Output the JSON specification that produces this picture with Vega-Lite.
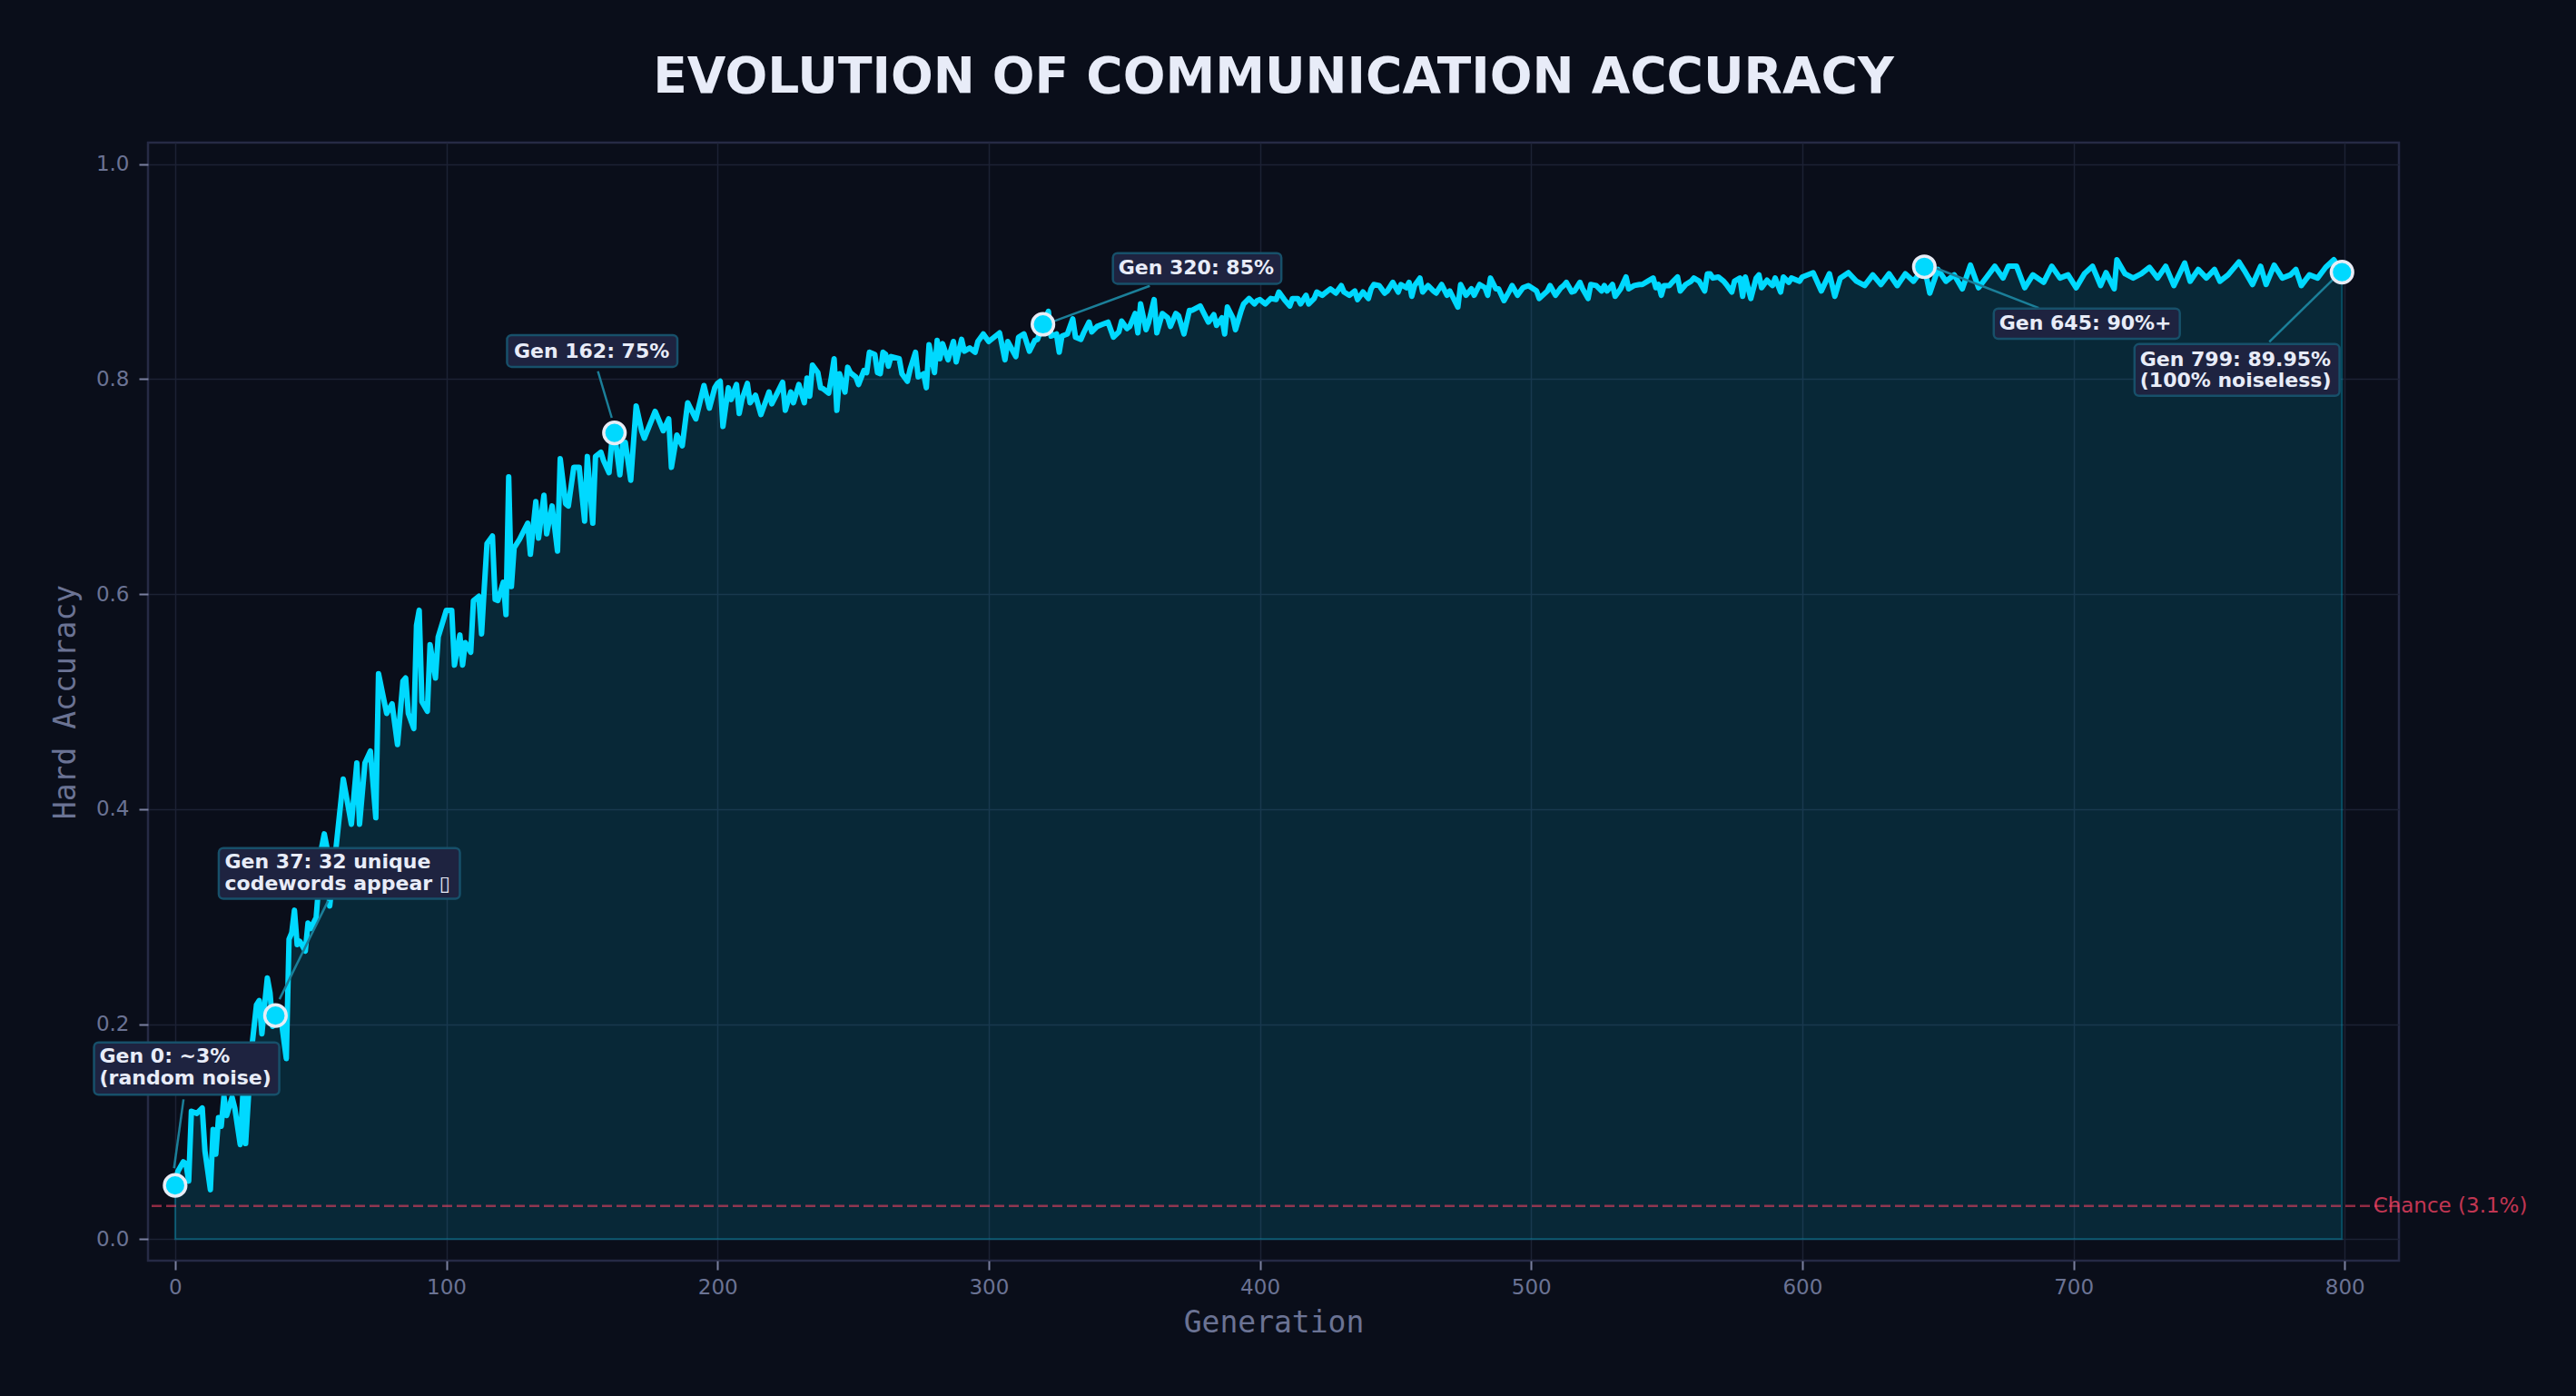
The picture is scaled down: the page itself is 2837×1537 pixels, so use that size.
{
  "$schema": "https://vega.github.io/schema/vega-lite/v6.json",
  "description": "Evolution of communication accuracy over generations, with milestone annotations.",
  "autosize": {"type": "none"},
  "width": 2479,
  "height": 1231,
  "padding": {"left": 163, "top": 157, "right": 195, "bottom": 149},
  "background": "#0a0e1a",
  "title": {
    "text": "EVOLUTION OF COMMUNICATION ACCURACY",
    "font": "DejaVu Sans",
    "fontSize": 55,
    "fontWeight": "bold",
    "color": "#e8ecf8",
    "anchor": "middle",
    "frame": "group",
    "baseline": "alphabetic",
    "offset": 0
  },
  "config": {
    "view": {"stroke": "#262a45", "strokeWidth": 2.5, "fill": "#0a0e1a"},
    "axis": {
      "domain": false,
      "labelFont": "DejaVu Sans",
      "labelFontSize": 23,
      "labelColor": "#6b7394",
      "tickColor": "#7a80a0",
      "tickSize": 10,
      "tickWidth": 2,
      "gridColor": "#1c2234",
      "gridWidth": 1.5,
      "titleFont": "DejaVu Sans Mono",
      "titleFontSize": 33,
      "titleFontWeight": "normal",
      "titleColor": "#6b7394"
    }
  },
  "datasets": {
    "curve": [
      {"gen": 0, "acc": 0.050}, {"gen": 1, "acc": 0.063}, {"gen": 3, "acc": 0.072}, {"gen": 4, "acc": 0.070},
      {"gen": 5, "acc": 0.054}, {"gen": 6, "acc": 0.119}, {"gen": 8, "acc": 0.117}, {"gen": 10, "acc": 0.122},
      {"gen": 11, "acc": 0.082}, {"gen": 13, "acc": 0.046}, {"gen": 14, "acc": 0.102}, {"gen": 15, "acc": 0.079},
      {"gen": 16, "acc": 0.113}, {"gen": 17, "acc": 0.105}, {"gen": 18, "acc": 0.133}, {"gen": 19, "acc": 0.115},
      {"gen": 21, "acc": 0.132}, {"gen": 22, "acc": 0.122}, {"gen": 24, "acc": 0.088}, {"gen": 25, "acc": 0.136},
      {"gen": 26, "acc": 0.089}, {"gen": 28, "acc": 0.172}, {"gen": 29, "acc": 0.195}, {"gen": 30, "acc": 0.218},
      {"gen": 31, "acc": 0.222}, {"gen": 32, "acc": 0.191}, {"gen": 33, "acc": 0.218}, {"gen": 34, "acc": 0.243},
      {"gen": 35, "acc": 0.229}, {"gen": 36, "acc": 0.198}, {"gen": 37, "acc": 0.208}, {"gen": 39, "acc": 0.206},
      {"gen": 41, "acc": 0.168}, {"gen": 42, "acc": 0.279}, {"gen": 43, "acc": 0.285}, {"gen": 44, "acc": 0.306},
      {"gen": 45, "acc": 0.274}, {"gen": 46, "acc": 0.277}, {"gen": 48, "acc": 0.268}, {"gen": 49, "acc": 0.294},
      {"gen": 50, "acc": 0.289}, {"gen": 52, "acc": 0.299}, {"gen": 54, "acc": 0.364}, {"gen": 55, "acc": 0.377},
      {"gen": 56, "acc": 0.364}, {"gen": 57, "acc": 0.310}, {"gen": 59, "acc": 0.356}, {"gen": 62, "acc": 0.428},
      {"gen": 65, "acc": 0.386}, {"gen": 67, "acc": 0.443}, {"gen": 68, "acc": 0.386}, {"gen": 70, "acc": 0.443},
      {"gen": 72, "acc": 0.454}, {"gen": 74, "acc": 0.392}, {"gen": 75, "acc": 0.526}, {"gen": 78, "acc": 0.489},
      {"gen": 80, "acc": 0.498}, {"gen": 82, "acc": 0.460}, {"gen": 84, "acc": 0.519}, {"gen": 85, "acc": 0.522},
      {"gen": 86, "acc": 0.489}, {"gen": 88, "acc": 0.475}, {"gen": 89, "acc": 0.571}, {"gen": 90, "acc": 0.585},
      {"gen": 91, "acc": 0.500}, {"gen": 93, "acc": 0.491}, {"gen": 94, "acc": 0.553}, {"gen": 96, "acc": 0.522},
      {"gen": 97, "acc": 0.560}, {"gen": 100, "acc": 0.585}, {"gen": 102, "acc": 0.585}, {"gen": 103, "acc": 0.534},
      {"gen": 105, "acc": 0.562}, {"gen": 106, "acc": 0.534}, {"gen": 107, "acc": 0.555}, {"gen": 109, "acc": 0.546},
      {"gen": 110, "acc": 0.594}, {"gen": 112, "acc": 0.598}, {"gen": 113, "acc": 0.563}, {"gen": 114, "acc": 0.606},
      {"gen": 115, "acc": 0.647}, {"gen": 117, "acc": 0.654}, {"gen": 118, "acc": 0.595}, {"gen": 119, "acc": 0.594},
      {"gen": 121, "acc": 0.611}, {"gen": 122, "acc": 0.581}, {"gen": 123, "acc": 0.709}, {"gen": 124, "acc": 0.607},
      {"gen": 125, "acc": 0.643}, {"gen": 127, "acc": 0.651}, {"gen": 130, "acc": 0.666}, {"gen": 131, "acc": 0.637},
      {"gen": 133, "acc": 0.686}, {"gen": 134, "acc": 0.652}, {"gen": 136, "acc": 0.692}, {"gen": 137, "acc": 0.656},
      {"gen": 139, "acc": 0.682}, {"gen": 141, "acc": 0.640}, {"gen": 142, "acc": 0.726}, {"gen": 144, "acc": 0.684},
      {"gen": 145, "acc": 0.682}, {"gen": 147, "acc": 0.718}, {"gen": 149, "acc": 0.718}, {"gen": 151, "acc": 0.668},
      {"gen": 152, "acc": 0.728}, {"gen": 154, "acc": 0.666}, {"gen": 155, "acc": 0.728}, {"gen": 157, "acc": 0.732},
      {"gen": 158, "acc": 0.724}, {"gen": 160, "acc": 0.713}, {"gen": 161, "acc": 0.741}, {"gen": 162, "acc": 0.750},
      {"gen": 164, "acc": 0.711}, {"gen": 165, "acc": 0.739}, {"gen": 166, "acc": 0.741}, {"gen": 168, "acc": 0.706},
      {"gen": 170, "acc": 0.775}, {"gen": 172, "acc": 0.752}, {"gen": 173, "acc": 0.745}, {"gen": 177, "acc": 0.770},
      {"gen": 180, "acc": 0.752}, {"gen": 182, "acc": 0.763}, {"gen": 183, "acc": 0.718}, {"gen": 185, "acc": 0.748},
      {"gen": 187, "acc": 0.738}, {"gen": 189, "acc": 0.778}, {"gen": 192, "acc": 0.763}, {"gen": 195, "acc": 0.794},
      {"gen": 197, "acc": 0.773}, {"gen": 199, "acc": 0.792}, {"gen": 200, "acc": 0.796}, {"gen": 201, "acc": 0.798},
      {"gen": 202, "acc": 0.756}, {"gen": 204, "acc": 0.792}, {"gen": 205, "acc": 0.781}, {"gen": 207, "acc": 0.795},
      {"gen": 208, "acc": 0.768}, {"gen": 209, "acc": 0.781}, {"gen": 211, "acc": 0.796}, {"gen": 212, "acc": 0.778},
      {"gen": 214, "acc": 0.785}, {"gen": 216, "acc": 0.767}, {"gen": 218, "acc": 0.781}, {"gen": 219, "acc": 0.788},
      {"gen": 220, "acc": 0.777}, {"gen": 222, "acc": 0.787}, {"gen": 224, "acc": 0.797}, {"gen": 225, "acc": 0.771},
      {"gen": 227, "acc": 0.788}, {"gen": 228, "acc": 0.778}, {"gen": 230, "acc": 0.795}, {"gen": 232, "acc": 0.778},
      {"gen": 233, "acc": 0.801}, {"gen": 234, "acc": 0.784}, {"gen": 235, "acc": 0.813}, {"gen": 237, "acc": 0.806},
      {"gen": 238, "acc": 0.792}, {"gen": 239, "acc": 0.791}, {"gen": 241, "acc": 0.787}, {"gen": 242, "acc": 0.802},
      {"gen": 243, "acc": 0.819}, {"gen": 244, "acc": 0.771}, {"gen": 245, "acc": 0.805}, {"gen": 247, "acc": 0.788},
      {"gen": 248, "acc": 0.811}, {"gen": 249, "acc": 0.806}, {"gen": 251, "acc": 0.802}, {"gen": 252, "acc": 0.795},
      {"gen": 254, "acc": 0.808}, {"gen": 255, "acc": 0.806}, {"gen": 256, "acc": 0.825}, {"gen": 258, "acc": 0.823},
      {"gen": 259, "acc": 0.806}, {"gen": 260, "acc": 0.805}, {"gen": 261, "acc": 0.825}, {"gen": 262, "acc": 0.823},
      {"gen": 263, "acc": 0.812}, {"gen": 264, "acc": 0.821}, {"gen": 267, "acc": 0.819}, {"gen": 268, "acc": 0.805},
      {"gen": 270, "acc": 0.798}, {"gen": 271, "acc": 0.809}, {"gen": 273, "acc": 0.825}, {"gen": 274, "acc": 0.802},
      {"gen": 276, "acc": 0.805}, {"gen": 277, "acc": 0.792}, {"gen": 278, "acc": 0.832}, {"gen": 280, "acc": 0.806},
      {"gen": 281, "acc": 0.836}, {"gen": 282, "acc": 0.819}, {"gen": 283, "acc": 0.833}, {"gen": 285, "acc": 0.818},
      {"gen": 287, "acc": 0.835}, {"gen": 288, "acc": 0.816}, {"gen": 290, "acc": 0.837}, {"gen": 291, "acc": 0.826},
      {"gen": 293, "acc": 0.829}, {"gen": 295, "acc": 0.825}, {"gen": 296, "acc": 0.835}, {"gen": 298, "acc": 0.842},
      {"gen": 300, "acc": 0.835}, {"gen": 302, "acc": 0.839}, {"gen": 304, "acc": 0.843}, {"gen": 306, "acc": 0.818},
      {"gen": 307, "acc": 0.835}, {"gen": 310, "acc": 0.821}, {"gen": 311, "acc": 0.839}, {"gen": 313, "acc": 0.842},
      {"gen": 315, "acc": 0.826}, {"gen": 317, "acc": 0.836}, {"gen": 318, "acc": 0.837}, {"gen": 320, "acc": 0.851},
      {"gen": 322, "acc": 0.863}, {"gen": 323, "acc": 0.840}, {"gen": 325, "acc": 0.842}, {"gen": 326, "acc": 0.825},
      {"gen": 327, "acc": 0.840}, {"gen": 329, "acc": 0.842}, {"gen": 331, "acc": 0.856}, {"gen": 332, "acc": 0.839},
      {"gen": 334, "acc": 0.837}, {"gen": 335, "acc": 0.843}, {"gen": 337, "acc": 0.853}, {"gen": 338, "acc": 0.844},
      {"gen": 340, "acc": 0.849}, {"gen": 342, "acc": 0.851}, {"gen": 344, "acc": 0.853}, {"gen": 346, "acc": 0.839},
      {"gen": 348, "acc": 0.844}, {"gen": 349, "acc": 0.854}, {"gen": 351, "acc": 0.847}, {"gen": 352, "acc": 0.849},
      {"gen": 354, "acc": 0.861}, {"gen": 355, "acc": 0.843}, {"gen": 356, "acc": 0.870}, {"gen": 358, "acc": 0.846},
      {"gen": 359, "acc": 0.853}, {"gen": 361, "acc": 0.874}, {"gen": 362, "acc": 0.843}, {"gen": 364, "acc": 0.861},
      {"gen": 366, "acc": 0.857}, {"gen": 367, "acc": 0.849}, {"gen": 369, "acc": 0.861}, {"gen": 370, "acc": 0.859},
      {"gen": 372, "acc": 0.842}, {"gen": 374, "acc": 0.864}, {"gen": 375, "acc": 0.864}, {"gen": 378, "acc": 0.868},
      {"gen": 379, "acc": 0.863}, {"gen": 381, "acc": 0.853}, {"gen": 383, "acc": 0.860}, {"gen": 384, "acc": 0.850},
      {"gen": 386, "acc": 0.857}, {"gen": 387, "acc": 0.842}, {"gen": 388, "acc": 0.867}, {"gen": 390, "acc": 0.857},
      {"gen": 391, "acc": 0.846}, {"gen": 393, "acc": 0.863}, {"gen": 394, "acc": 0.870}, {"gen": 396, "acc": 0.875},
      {"gen": 398, "acc": 0.870}, {"gen": 399, "acc": 0.873}, {"gen": 400, "acc": 0.874}, {"gen": 402, "acc": 0.870},
      {"gen": 404, "acc": 0.875}, {"gen": 406, "acc": 0.874}, {"gen": 407, "acc": 0.881}, {"gen": 409, "acc": 0.874},
      {"gen": 411, "acc": 0.868}, {"gen": 412, "acc": 0.875}, {"gen": 414, "acc": 0.875}, {"gen": 415, "acc": 0.870},
      {"gen": 417, "acc": 0.878}, {"gen": 418, "acc": 0.870}, {"gen": 420, "acc": 0.875}, {"gen": 421, "acc": 0.881},
      {"gen": 423, "acc": 0.878}, {"gen": 424, "acc": 0.880}, {"gen": 426, "acc": 0.884}, {"gen": 428, "acc": 0.880},
      {"gen": 430, "acc": 0.887}, {"gen": 431, "acc": 0.881}, {"gen": 433, "acc": 0.878}, {"gen": 435, "acc": 0.882},
      {"gen": 436, "acc": 0.874}, {"gen": 438, "acc": 0.881}, {"gen": 440, "acc": 0.875}, {"gen": 441, "acc": 0.884},
      {"gen": 442, "acc": 0.888}, {"gen": 444, "acc": 0.887}, {"gen": 446, "acc": 0.880}, {"gen": 447, "acc": 0.882},
      {"gen": 449, "acc": 0.890}, {"gen": 451, "acc": 0.881}, {"gen": 452, "acc": 0.888}, {"gen": 454, "acc": 0.885},
      {"gen": 455, "acc": 0.890}, {"gen": 456, "acc": 0.877}, {"gen": 457, "acc": 0.887}, {"gen": 459, "acc": 0.894},
      {"gen": 460, "acc": 0.881}, {"gen": 462, "acc": 0.887}, {"gen": 464, "acc": 0.882}, {"gen": 465, "acc": 0.880},
      {"gen": 467, "acc": 0.888}, {"gen": 469, "acc": 0.878}, {"gen": 470, "acc": 0.882}, {"gen": 471, "acc": 0.877},
      {"gen": 473, "acc": 0.867}, {"gen": 474, "acc": 0.888}, {"gen": 476, "acc": 0.878}, {"gen": 478, "acc": 0.884},
      {"gen": 479, "acc": 0.878}, {"gen": 481, "acc": 0.888}, {"gen": 483, "acc": 0.885}, {"gen": 484, "acc": 0.878},
      {"gen": 485, "acc": 0.894}, {"gen": 487, "acc": 0.884}, {"gen": 488, "acc": 0.884}, {"gen": 490, "acc": 0.873},
      {"gen": 492, "acc": 0.882}, {"gen": 493, "acc": 0.887}, {"gen": 495, "acc": 0.878}, {"gen": 497, "acc": 0.885},
      {"gen": 499, "acc": 0.887}, {"gen": 502, "acc": 0.882}, {"gen": 503, "acc": 0.875}, {"gen": 506, "acc": 0.882},
      {"gen": 507, "acc": 0.887}, {"gen": 509, "acc": 0.878}, {"gen": 511, "acc": 0.885}, {"gen": 512, "acc": 0.887},
      {"gen": 513, "acc": 0.890}, {"gen": 515, "acc": 0.881}, {"gen": 516, "acc": 0.882}, {"gen": 518, "acc": 0.890},
      {"gen": 519, "acc": 0.884}, {"gen": 521, "acc": 0.875}, {"gen": 522, "acc": 0.888}, {"gen": 524, "acc": 0.887},
      {"gen": 526, "acc": 0.882}, {"gen": 527, "acc": 0.887}, {"gen": 528, "acc": 0.882}, {"gen": 530, "acc": 0.888},
      {"gen": 531, "acc": 0.877}, {"gen": 533, "acc": 0.884}, {"gen": 535, "acc": 0.895}, {"gen": 536, "acc": 0.884},
      {"gen": 538, "acc": 0.887}, {"gen": 540, "acc": 0.888}, {"gen": 541, "acc": 0.888}, {"gen": 543, "acc": 0.891},
      {"gen": 545, "acc": 0.894}, {"gen": 546, "acc": 0.885}, {"gen": 547, "acc": 0.888}, {"gen": 548, "acc": 0.878},
      {"gen": 549, "acc": 0.887}, {"gen": 551, "acc": 0.887}, {"gen": 552, "acc": 0.890}, {"gen": 554, "acc": 0.895},
      {"gen": 555, "acc": 0.882}, {"gen": 557, "acc": 0.888}, {"gen": 559, "acc": 0.891}, {"gen": 560, "acc": 0.894},
      {"gen": 562, "acc": 0.891}, {"gen": 564, "acc": 0.882}, {"gen": 565, "acc": 0.898}, {"gen": 566, "acc": 0.898},
      {"gen": 567, "acc": 0.894}, {"gen": 569, "acc": 0.895}, {"gen": 571, "acc": 0.891}, {"gen": 572, "acc": 0.888},
      {"gen": 574, "acc": 0.881}, {"gen": 575, "acc": 0.891}, {"gen": 577, "acc": 0.894}, {"gen": 578, "acc": 0.877},
      {"gen": 579, "acc": 0.895}, {"gen": 581, "acc": 0.875}, {"gen": 583, "acc": 0.894}, {"gen": 584, "acc": 0.897},
      {"gen": 585, "acc": 0.885}, {"gen": 587, "acc": 0.892}, {"gen": 589, "acc": 0.887}, {"gen": 590, "acc": 0.894},
      {"gen": 592, "acc": 0.881}, {"gen": 593, "acc": 0.895}, {"gen": 595, "acc": 0.890}, {"gen": 596, "acc": 0.894},
      {"gen": 599, "acc": 0.891}, {"gen": 600, "acc": 0.895}, {"gen": 604, "acc": 0.899}, {"gen": 607, "acc": 0.882},
      {"gen": 610, "acc": 0.898}, {"gen": 612, "acc": 0.877}, {"gen": 614, "acc": 0.894}, {"gen": 617, "acc": 0.899},
      {"gen": 620, "acc": 0.891}, {"gen": 623, "acc": 0.887}, {"gen": 626, "acc": 0.897}, {"gen": 629, "acc": 0.888},
      {"gen": 632, "acc": 0.898}, {"gen": 635, "acc": 0.887}, {"gen": 638, "acc": 0.898}, {"gen": 641, "acc": 0.891},
      {"gen": 645, "acc": 0.9045}, {"gen": 647, "acc": 0.880}, {"gen": 650, "acc": 0.902}, {"gen": 653, "acc": 0.891},
      {"gen": 656, "acc": 0.897}, {"gen": 659, "acc": 0.884}, {"gen": 662, "acc": 0.906}, {"gen": 665, "acc": 0.885},
      {"gen": 668, "acc": 0.895}, {"gen": 671, "acc": 0.905}, {"gen": 674, "acc": 0.894}, {"gen": 676, "acc": 0.905},
      {"gen": 679, "acc": 0.905}, {"gen": 682, "acc": 0.885}, {"gen": 685, "acc": 0.897}, {"gen": 689, "acc": 0.890},
      {"gen": 692, "acc": 0.905}, {"gen": 695, "acc": 0.894}, {"gen": 698, "acc": 0.897}, {"gen": 701, "acc": 0.885},
      {"gen": 704, "acc": 0.898}, {"gen": 707, "acc": 0.905}, {"gen": 710, "acc": 0.887}, {"gen": 712, "acc": 0.899},
      {"gen": 715, "acc": 0.884}, {"gen": 716, "acc": 0.911}, {"gen": 719, "acc": 0.898}, {"gen": 722, "acc": 0.894},
      {"gen": 725, "acc": 0.898}, {"gen": 728, "acc": 0.904}, {"gen": 731, "acc": 0.894}, {"gen": 734, "acc": 0.905},
      {"gen": 737, "acc": 0.887}, {"gen": 741, "acc": 0.908}, {"gen": 743, "acc": 0.891}, {"gen": 746, "acc": 0.902},
      {"gen": 749, "acc": 0.894}, {"gen": 752, "acc": 0.902}, {"gen": 754, "acc": 0.891}, {"gen": 757, "acc": 0.897},
      {"gen": 761, "acc": 0.909}, {"gen": 763, "acc": 0.901}, {"gen": 766, "acc": 0.888}, {"gen": 769, "acc": 0.905},
      {"gen": 771, "acc": 0.888}, {"gen": 774, "acc": 0.906}, {"gen": 777, "acc": 0.894}, {"gen": 780, "acc": 0.897},
      {"gen": 782, "acc": 0.902}, {"gen": 784, "acc": 0.887}, {"gen": 787, "acc": 0.897}, {"gen": 790, "acc": 0.894},
      {"gen": 793, "acc": 0.904}, {"gen": 796, "acc": 0.911}, {"gen": 799, "acc": 0.8995}
    ],
    "milestones": [
      {"gen": 0, "acc": 0.050},
      {"gen": 37, "acc": 0.208},
      {"gen": 162, "acc": 0.750},
      {"gen": 320, "acc": 0.851},
      {"gen": 645, "acc": 0.9045},
      {"gen": 799, "acc": 0.8995}
    ],
    "chance": [
      {"gen": 810.5, "acc": 0.031, "label": "Chance (3.1%)"}
    ],
    "notes": [
      {"label": ["Gen 0: ~3%", "(random noise)"], "tx": -27.9, "ty": 0.170, "bx0": -29.9, "bx1": 38.4, "by0": 0.1344, "by1": 0.1830, "ax0": 3.1, "ay0": 0.130, "ax1": -0.4, "ay1": 0.066},
      {"label": ["Gen 37: 32 unique", "codewords appear ▯"], "tx": 18.3, "ty": 0.3508, "bx0": 16.1, "bx1": 105.0, "by0": 0.3167, "by1": 0.3638, "ax0": 56.4, "ay0": 0.3147, "ax1": 38.5, "ay1": 0.2232},
      {"label": ["Gen 162: 75%"], "tx": 124.9, "ty": 0.8258, "bx0": 122.4, "bx1": 185.2, "by0": 0.8114, "by1": 0.8409, "ax0": 155.9, "ay0": 0.8073, "ax1": 161.0, "ay1": 0.7640},
      {"label": ["Gen 320: 85%"], "tx": 347.8, "ty": 0.9031, "bx0": 345.8, "bx1": 407.9, "by0": 0.8887, "by1": 0.9172, "ax0": 359.4, "ay0": 0.8867, "ax1": 323.6, "ay1": 0.8535},
      {"label": ["Gen 645: 90%+"], "tx": 672.6, "ty": 0.8516, "bx0": 670.6, "bx1": 739.2, "by0": 0.8375, "by1": 0.8656, "ax0": 687.2, "ay0": 0.8662, "ax1": 649.5, "ay1": 0.9030},
      {"label": ["Gen 799: 89.95%", "(100% noiseless)"], "tx": 724.5, "ty": 0.8183, "bx0": 722.5, "bx1": 798.1, "by0": 0.7844, "by1": 0.8326, "ax0": 772.2, "ay0": 0.8346, "ax1": 795.8, "ay1": 0.8930}
    ]
  },
  "layer": [
    {
      "data": {"name": "curve"},
      "mark": {"type": "area", "color": "#00d9ff", "fillOpacity": 0.13, "stroke": "#00d9ff", "strokeOpacity": 0.28, "strokeWidth": 2},
      "encoding": {
        "x": {
          "field": "gen", "type": "quantitative",
          "scale": {"domain": [-10, 820], "nice": false, "zero": false},
          "axis": {"title": "Generation", "values": [0, 100, 200, 300, 400, 500, 600, 700, 800], "labelPadding": 8, "titlePadding": 11}
        },
        "y": {
          "field": "acc", "type": "quantitative",
          "scale": {"domain": [-0.02, 1.02], "nice": false, "zero": false},
          "axis": {"title": "Hard Accuracy", "values": [0, 0.2, 0.4, 0.6, 0.8, 1.0], "format": ".1f", "labelPadding": 11, "titlePadding": 16}
        },
        "y2": {"datum": 0}
      }
    },
    {
      "data": {"name": "curve"},
      "mark": {"type": "line", "color": "#00d9ff", "strokeWidth": 6, "strokeJoin": "round", "strokeCap": "round"},
      "encoding": {
        "x": {"field": "gen", "type": "quantitative"},
        "y": {"field": "acc", "type": "quantitative"}
      }
    },
    {
      "data": {"name": "chance"},
      "mark": {"type": "rule", "color": "#ff4466", "opacity": 0.55, "strokeWidth": 2.5, "strokeDash": [11, 5]},
      "encoding": {"y": {"field": "acc", "type": "quantitative"}}
    },
    {
      "data": {"name": "chance"},
      "mark": {"type": "text", "align": "left", "baseline": "middle", "font": "DejaVu Sans", "fontSize": 23, "color": "#ff4466", "opacity": 0.75},
      "encoding": {
        "x": {"field": "gen", "type": "quantitative"},
        "y": {"field": "acc", "type": "quantitative"},
        "text": {"field": "label"}
      }
    },
    {
      "data": {"name": "notes"},
      "mark": {"type": "rule", "color": "#1b7f99", "strokeWidth": 2.5},
      "encoding": {
        "x": {"field": "ax0", "type": "quantitative"},
        "y": {"field": "ay0", "type": "quantitative"},
        "x2": {"field": "ax1"},
        "y2": {"field": "ay1"}
      }
    },
    {
      "data": {"name": "milestones"},
      "mark": {"type": "point", "shape": "circle", "filled": true, "size": 560, "color": "#00d9ff", "stroke": "#e8ecf5", "strokeWidth": 3.5, "opacity": 1},
      "encoding": {
        "x": {"field": "gen", "type": "quantitative"},
        "y": {"field": "acc", "type": "quantitative"}
      }
    },
    {
      "data": {"name": "notes"},
      "mark": {"type": "rect", "fill": "#1e2340", "stroke": "#17506a", "strokeWidth": 2.5, "cornerRadius": 5},
      "encoding": {
        "x": {"field": "bx0", "type": "quantitative"},
        "x2": {"field": "bx1"},
        "y": {"field": "by0", "type": "quantitative"},
        "y2": {"field": "by1"}
      }
    },
    {
      "data": {"name": "notes"},
      "mark": {"type": "text", "align": "left", "baseline": "middle", "font": "DejaVu Sans", "fontSize": 22, "fontWeight": "bold", "color": "#e8ecf8", "lineHeight": 23.5},
      "encoding": {
        "x": {"field": "tx", "type": "quantitative"},
        "y": {"field": "ty", "type": "quantitative"},
        "text": {"field": "label"}
      }
    }
  ]
}
